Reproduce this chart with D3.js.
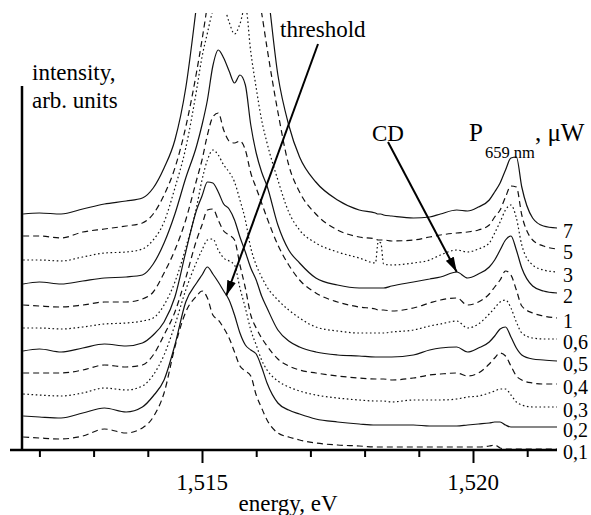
<!DOCTYPE html>
<html>
<head>
<meta charset="utf-8">
<script src="https://cdn.jsdelivr.net/npm/d3@7"></script>
<style>
  html, body { margin: 0; background: #fff; }
  svg { display: block; }
  text { font-family: "Liberation Serif", LiberationSerif, "DejaVu Serif", DejaVuSerif, "Noto Serif", Tinos, FreeSerif, Times, serif; fill: #000; }
</style>
</head>
<body>
<svg id="chart" width="591" height="515"></svg>
<script>
// Photon energy grid (eV), shared by all spectra
const energy = [1.5117,1.5120,1.5124,1.5128,1.5132,1.5136,1.5139,1.5141,1.5143,1.5145,1.5147,1.5149,
  1.5150,1.5151,1.5152,1.5153,1.5154,1.5155,1.5156,1.5157,1.5158,1.5159,1.5160,1.5161,1.5162,
  1.5164,1.5166,1.5168,1.5171,1.5175,1.5179,1.5182,1.51825,1.5183,1.51835,
  1.5185,1.5189,1.5192,1.5194,1.5197,1.5199,1.5201,1.5203,1.5204,1.5205,1.5206,1.5207,1.5208,1.5209,1.5211,1.5213,1.52155];

// PL intensity (arb. units, vertically stacked) for each excitation power P(659 nm), µW
const p7  = [236,237,236,241,246,249,252, 262,282,310,362,445, 490,525,550,565,572,573,570,564,556,546,528,500,464, 375,325,293,268,250,240,237,236,236,235, 234,232,233,236,240,239,243,250,258,267,280,292,293,263,232,224,222];
const p5  = [214,214,212,218,221,224,227, 236,255,282,323,378, 410,445,480,500,510,512,510,505,498,485,465,437,402, 338,285,258,236,220,213,211,210,210,210, 209,210,213,215,217,218,220,225,233,240,253,264,263,235,210,204,201];
const p3  = [190,190,189,193,197,198,201, 210,228,262,302,360, 393,417,440,455,445,428,416,426,444,398,362,330,307, 270,238,220,207,198,192,187,208,207,186, 185,187,190,195,200,198,201,207,217,228,240,245,232,205,185,180,178];
const p2  = [166,168,166,169,172,173,175, 186,207,236,272,304, 325,350,384,400,392,379,367,375,365,325,297,278,264, 225,200,187,172,165,162,162,162,162,162, 164,168,171,173,178,172,176,183,190,200,210,214,200,182,164,159,157];
const p1  = [145,144,143,145,148,148,151, 158,177,200,230,270, 290,315,333,337,320,309,307,309,300,277,262,247,232, 205,185,170,157,148,143,141,140,140,140, 139,142,147,150,152,145,148,156,163,170,179,175,160,144,137,134,132];
const p06 = [122,122,121,123,126,127,129, 132,145,168,202,243, 270,290,300,295,285,278,268,250,230,202,185,173,163, 150,140,132,123,119,117,117,117,117,117, 118,120,124,126,129,122,126,136,142,148,150,142,128,117,112,111,111];
const p05 = [99,101,98,102,106,104,107, 115,128,153,198,240, 254,268,267,258,246,241,230,213,198,182,170,154,142, 120,109,103,98,95,94,93,93,93,93, 93,95,100,102,103,98,102,108,114,121,123,113,102,95,91,90,89];
const p04 = [77,77,77,80,85,83,85, 95,115,138,172,210, 225,240,241,230,219,215,210,185,162,135,122,112,104, 91,84,80,77,74,72,71,71,71,71, 70,72,75,76,77,74,77,86,92,97,94,84,74,70,67,66,66];
const p03 = [56,55,54,57,62,60,64, 75,95,125,160,188, 200,210,211,200,192,189,185,162,142,120,105,90,80, 69,63,59,55,52,50,49,49,49,49, 48,50,50,50,51,53,54,57,59,61,61,55,48,45,43,43,43];
const p02 = [34,33,32,37,42,38,43, 54,70,105,148,167, 175,183,176,168,159,150,135,117,105,100,96,83,67, 47,40,36,31,28,26,25,25,25,25, 25,25,24,24,24,25,26,27,28,28,25,23,23,23,23,23,23];
const p01 = [13,12,11,14,21,17,22, 33,57,103,138,154, 159,152,135,130,122,112,98,84,79,74,55,42,30, 17,13,10,7,5,4,3,3,3,3, 3,3,3,3,3,3,3,4,5,2,1,1,1,1,1,1,1];

const powerLabels = ["7","5","3","2","1","0,6","0,5","0,4","0,3","0,2","0,1"];
const spectra = [p7, p5, p3, p2, p1, p06, p05, p04, p03, p02, p01];

// Energy axis ticks
const tickEnergies = [1.512,1.513,1.514,1.515,1.516,1.517,1.518,1.519,1.520,1.521];
const majorTicks = [1.515, 1.520];
const majorTickLabels = ["1,515", "1,520"];

// Annotated features: arrow points at a spectrum at the given energy
const annotations = [
  { text: "threshold", series: 9, energy: 1.51545 },
  { text: "CD", series: 3, energy: 1.5197 }
];

const svg = d3.select("#chart");
const FONT = 23;

const x = d3.scaleLinear().domain([1.515, 1.520]).range([202, 473]);
const y = d3.scaleLinear().domain([0, 436]).range([450, 14]);

const plotTop = 13, axisY = 450, axisX = 22;

const defs = svg.append("defs");
defs.append("clipPath").attr("id", "plot-clip")
  .append("rect").attr("x", axisX).attr("y", plotTop).attr("width", 560 - axisX).attr("height", axisY + 4 - plotTop);

const dashes = ["none", "6,4", "1.6,2.6"];
const line = d3.line().x((d, i) => x(energy[i])).y(d => y(d)).curve(d3.curveMonotoneX);

const curves = svg.append("g").attr("clip-path", "url(#plot-clip)");
spectra.forEach((s, k) => {
  curves.append("path")
    .datum(s)
    .attr("d", line)
    .attr("fill", "none")
    .attr("stroke", "#111")
    .attr("stroke-width", 1.2)
    .attr("stroke-dasharray", dashes[k % 3]);
});

// Power labels at the right end of each spectrum
spectra.forEach((s, k) => {
  svg.append("text")
    .attr("x", 563)
    .attr("y", y(s[s.length - 1]) + 10)
    .attr("font-size", 20)
    .text(powerLabels[k]);
});

// Axes
svg.append("line").attr("x1", 10).attr("x2", 557).attr("y1", axisY).attr("y2", axisY)
  .attr("stroke", "#000").attr("stroke-width", 2.5);
svg.append("line").attr("x1", axisX).attr("x2", axisX).attr("y1", 86).attr("y2", axisY)
  .attr("stroke", "#000").attr("stroke-width", 2.5);

const xAxis = d3.axisBottom(x).tickValues(tickEnergies).tickSize(7).tickFormat("");
const gx = svg.append("g").attr("transform", `translate(0,${axisY})`).call(xAxis);
gx.select(".domain").remove();
gx.selectAll(".tick line")
  .attr("stroke", "#000").attr("stroke-width", 2)
  .attr("y2", d => majorTicks.includes(d) ? 13 : 7);

majorTicks.forEach((e, i) => {
  svg.append("text").attr("x", x(e)).attr("y", 490).attr("text-anchor", "middle")
    .attr("font-size", FONT).text(majorTickLabels[i]);
});

svg.append("text").attr("x", 288).attr("y", 511).attr("text-anchor", "middle")
  .attr("font-size", FONT).text("energy, eV");

svg.append("text").attr("x", 32).attr("y", 80).attr("font-size", FONT).text("intensity,");
svg.append("text").attr("x", 32).attr("y", 108).attr("font-size", FONT).text("arb. units");

// Legend title: P_659 nm, µW
const ttl = svg.append("text").attr("x", 469).attr("y", 141).attr("font-size", 25);
ttl.append("tspan").text("P");
ttl.append("tspan").attr("dx", 2).attr("dy", 17).attr("font-size", 16.5).text("659 nm");
ttl.append("tspan").attr("dy", -17).text(", \u03bcW");

// Arrow annotations
defs.append("marker")
  .attr("id", "arrowhead")
  .attr("markerUnits", "userSpaceOnUse")
  .attr("viewBox", "0 0 15 9")
  .attr("markerWidth", 15).attr("markerHeight", 9)
  .attr("refX", 15).attr("refY", 4.5)
  .attr("orient", "auto")
  .append("path").attr("d", "M0,0 L15,4.5 L0,9 Z").attr("fill", "#000");

const textPos = { "threshold": [280, 37], "CD": [372, 141] };
const tailPos = { "threshold": [318, 44], "CD": [388, 142] };

annotations.forEach(a => {
  const interp = d3.scaleLinear().domain(energy).range(spectra[a.series]);
  const tx = x(a.energy), ty = y(interp(a.energy));
  const [sx, sy] = tailPos[a.text];
  svg.append("line")
    .attr("x1", sx).attr("y1", sy).attr("x2", tx).attr("y2", ty)
    .attr("stroke", "#000").attr("stroke-width", 2)
    .attr("marker-end", "url(#arrowhead)");
  svg.append("text").attr("x", textPos[a.text][0]).attr("y", textPos[a.text][1])
    .attr("font-size", FONT).text(a.text);
});
</script>
</body>
</html>
